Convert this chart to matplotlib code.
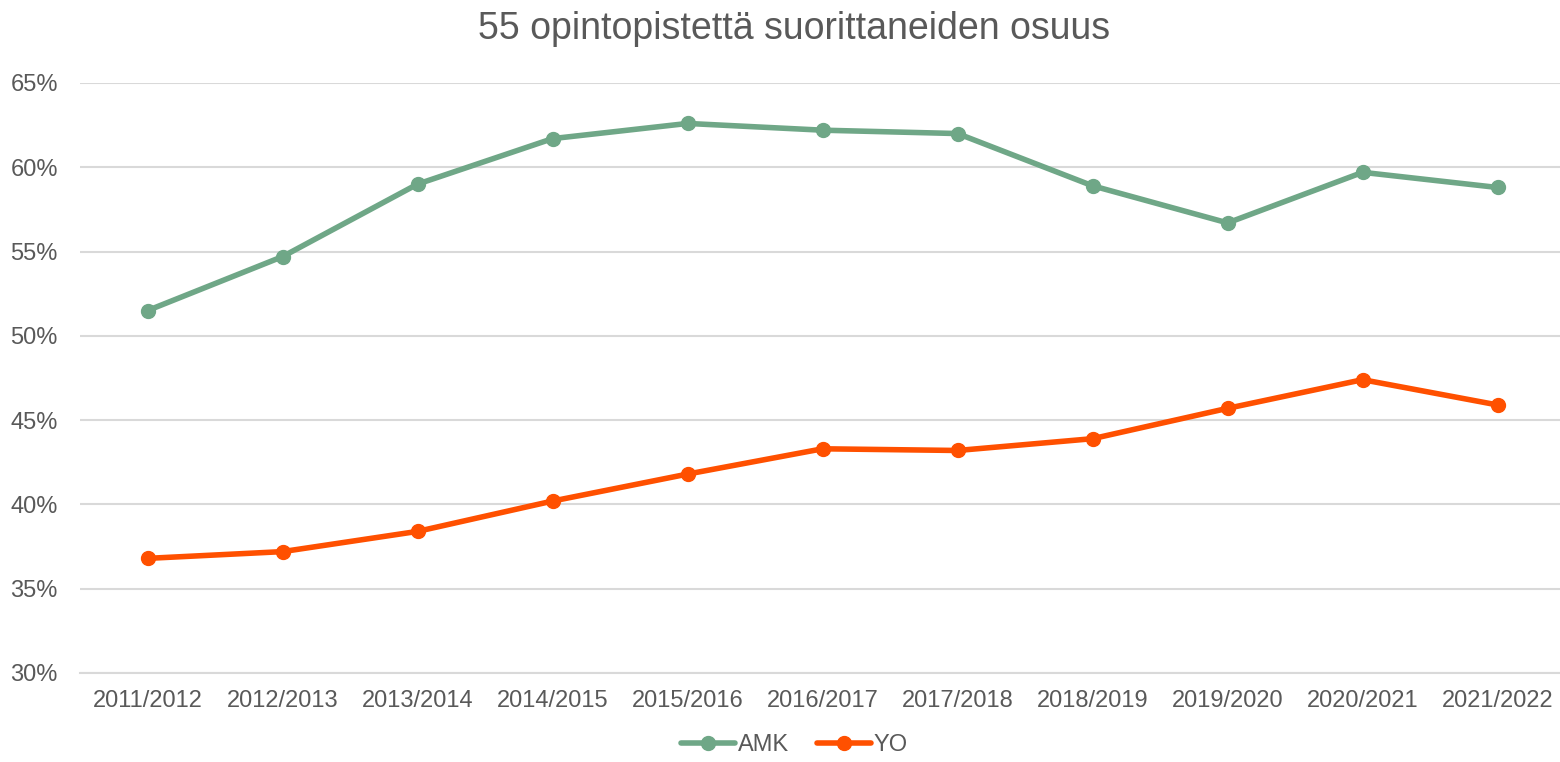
import matplotlib
matplotlib.use("Agg")
import matplotlib.pyplot as plt
from matplotlib.ticker import FuncFormatter

# Lukuvuodet
vuodet = ["2011/2012", "2012/2013", "2013/2014", "2014/2015", "2015/2016", "2016/2017",
          "2017/2018", "2018/2019", "2019/2020", "2020/2021", "2021/2022"]

# Osuudet (%)
amk = [51.5, 54.7, 59.0, 61.7, 62.6, 62.2, 62.0, 58.9, 56.7, 59.7, 58.8]
yo = [36.8, 37.2, 38.4, 40.2, 41.8, 43.3, 43.2, 43.9, 45.7, 47.4, 45.9]

harmaa = "#595959"
plt.rcParams['font.family'] = ['Liberation Sans', 'DejaVu Sans']

fig = plt.figure(figsize=(15.6, 7.62), dpi=100)
ax = fig.add_axes([0.0513, 0.1168, 0.952, 0.7743])

x = range(len(vuodet))
ax.plot(x, amk, color="#6fa787", lw=4, marker="o", ms=10, label="AMK", solid_capstyle="round")
ax.plot(x, yo, color="#ff5000", lw=4, marker="o", ms=10, label="YO", solid_capstyle="round")

ax.set_xlim(-0.5, 10.5)
ax.set_ylim(30, 65)
ax.set_yticks(range(30, 66, 5))
ax.yaxis.set_major_formatter(FuncFormatter(lambda v, p: f"{v:.0f}%"))
ax.set_xticks(list(x))
ax.set_xticklabels(vuodet)
ax.grid(axis="y", color="#d9d9d9", lw=1.5)
ax.set_axisbelow(True)
for s in ["top", "right", "left"]:
    ax.spines[s].set_visible(False)
ax.spines["bottom"].set_color("#d9d9d9")
ax.spines["bottom"].set_linewidth(1.5)
ax.tick_params(length=0, labelsize=17, colors=harmaa)
ax.tick_params(axis="y", pad=16)
ax.tick_params(axis="x", pad=12)

ax.set_title("55 opintopistettä suorittaneiden osuus", fontsize=27, color=harmaa, pad=32, x=0.481)

ax.legend(loc="upper center", bbox_to_anchor=(0.481, -0.075), ncol=2, frameon=False,
          fontsize=17, labelcolor=harmaa, handlelength=2.3, handletextpad=0.1, columnspacing=1.2,
          borderpad=0.2)

fig.savefig("out.png")
